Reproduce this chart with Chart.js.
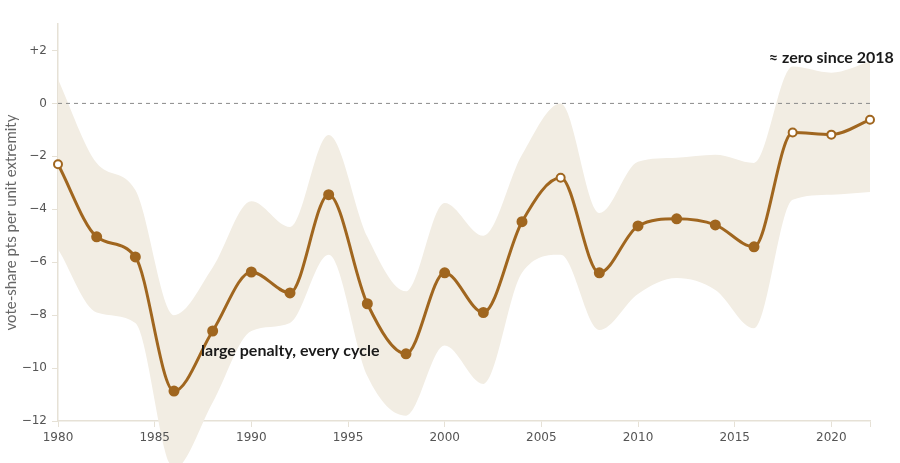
<!DOCTYPE html>
<html>
<head>
<meta charset="utf-8">
<script src="https://cdn.jsdelivr.net/npm/chart.js@4"></script>
<style>
  html, body { margin: 0; padding: 0; background: #fff; }
  #wrap { width: 900px; height: 463px; }
</style>
</head>
<body>
<div id="wrap"><canvas id="penaltyChart"></canvas></div>
<script>
// election years and estimated penalty (vote-share pts per unit extremity)
const years = [1980, 1982, 1984, 1986, 1988, 1990, 1992, 1994, 1996, 1998, 2000,
               2002, 2004, 2006, 2008, 2010, 2012, 2014, 2016, 2018, 2020, 2022];
const estimate = [-2.3, -5.04, -5.8, -10.87, -8.6, -6.37, -7.16, -3.45, -7.57, -9.46, -6.4,
                  -7.9, -4.47, -2.81, -6.4, -4.63, -4.36, -4.59, -5.42, -1.1, -1.18, -0.62];
const upperBand = [0.9, -2.25, -3.27, -8.0, -6.2, -3.7, -4.67, -1.19, -5.04, -7.1, -3.76,
                   -5.0, -1.94, 0.0, -4.14, -2.2, -2.05, -1.94, -2.25, 1.39, 1.16, 1.58];
const lowerBand = [-5.5, -7.9, -8.3, -13.8, -11.3, -8.6, -8.3, -5.72, -10.3, -11.8, -9.15,
                   -10.6, -6.4, -5.72, -8.56, -7.2, -6.6, -7.05, -8.5, -3.64, -3.45, -3.35];
// years where the estimate is not distinguishable from zero (hollow markers)
const openYears = [1980, 2006, 2018, 2020, 2022];

const xTicks = [1980, 1985, 1990, 1995, 2000, 2005, 2010, 2015, 2020, 2022];
const yTicks = [-12, -10, -8, -6, -4, -2, 0, 2];

const notes = [
  { text: '≈ zero since 2018', x: 2020, y: 1.73, align: 'center' },
  { text: 'large penalty, every cycle', x: 1987.4, y: -9.36, align: 'left' }
];

const BROWN = '#a0661f';
const BAND = '#f2ede3';
const AXIS = '#e6e1d6';

const pts = arr => years.map((yr, i) => ({ x: yr, y: arr[i] }));

// let the band fill spill past the plot area (it runs off the bottom in 1986)
let savedArea = null;
const unclipPlugin = {
  id: 'unclip',
  beforeDatasetsDraw(chart) {
    const a = chart.chartArea;
    savedArea = { top: a.top, bottom: a.bottom };
    a.top = 0;
    a.bottom = chart.height;
  },
  afterDatasetsDraw(chart) {
    if (savedArea) {
      chart.chartArea.top = savedArea.top;
      chart.chartArea.bottom = savedArea.bottom;
    }
  }
};

const notePlugin = {
  id: 'notes',
  afterDatasetsDraw(chart) {
    const { ctx, scales } = chart;
    ctx.save();
    ctx.font = 'bold 16px Lato';
    ctx.fillStyle = '#1a1a1a';
    ctx.textBaseline = 'middle';
    notes.forEach(n => {
      ctx.textAlign = n.align;
      ctx.fillText(n.text, scales.x.getPixelForValue(n.x), scales.y.getPixelForValue(n.y));
    });
    ctx.restore();
  }
};

new Chart(document.getElementById('penaltyChart'), {
  type: 'line',
  data: {
    datasets: [
      {
        label: 'upper', data: pts(upperBand), borderWidth: 0, pointRadius: 0,
        cubicInterpolationMode: 'monotone', fill: '+1', backgroundColor: BAND, clip: false, order: 3
      },
      {
        label: 'lower', data: pts(lowerBand), borderWidth: 0, pointRadius: 0,
        cubicInterpolationMode: 'monotone', fill: false, clip: false, order: 3
      },
      {
        label: 'zero', data: [{ x: years[0], y: 0 }, { x: years[years.length - 1], y: 0 }],
        borderColor: '#8a8a8a', borderWidth: 1, borderDash: [4, 4], pointRadius: 0, fill: false, order: 2
      },
      {
        label: 'estimate', data: pts(estimate), borderColor: BROWN, borderWidth: 3,
        cubicInterpolationMode: 'monotone', fill: false, clip: false, order: 1,
        pointRadius: years.map(y => openYears.includes(y) ? 4 : 4.5),
        pointBackgroundColor: years.map(y => openYears.includes(y) ? '#fff' : BROWN),
        pointBorderColor: BROWN,
        pointBorderWidth: 2
      }
    ]
  },
  options: {
    responsive: true,
    maintainAspectRatio: false,
    animation: false,
    layout: { padding: { top: 24, right: 30, left: 0, bottom: 0 } },
    plugins: { legend: { display: false }, tooltip: { enabled: false } },
    scales: {
      x: {
        type: 'linear', min: 1980, max: 2022,
        afterFit: s => { s.height = 42; },
        afterBuildTicks: s => { s.ticks = xTicks.map(v => ({ value: v })); },
        grid: { drawOnChartArea: false, tickLength: 6, tickColor: AXIS },
        border: { color: AXIS, width: 1.5 },
        ticks: {
          z: 1, padding: 4, color: '#555', font: { family: 'DejaVu Sans', size: 12 },
          maxRotation: 0, autoSkip: false,
          callback: v => v === 2022 ? '' : String(v)
        }
      },
      y: {
        type: 'linear', min: -12, max: 3,
        afterFit: s => { s.width = 58; },
        afterBuildTicks: s => { s.ticks = yTicks.map(v => ({ value: v })); },
        grid: { drawOnChartArea: false, tickLength: 6, tickColor: AXIS },
        border: { color: AXIS, width: 1.5 },
        ticks: {
          padding: 5, color: '#555', font: { family: 'DejaVu Sans', size: 12 },
          callback: v => v > 0 ? '+' + v : v < 0 ? '\u2212' + Math.abs(v) : '0'
        },
        title: {
          display: true, text: 'vote-share pts per unit extremity',
          color: '#666', font: { family: 'Lato', size: 15 }, padding: { top: 2, bottom: 2 }
        }
      }
    }
  },
  plugins: [unclipPlugin, notePlugin]
});
</script>
</body>
</html>
